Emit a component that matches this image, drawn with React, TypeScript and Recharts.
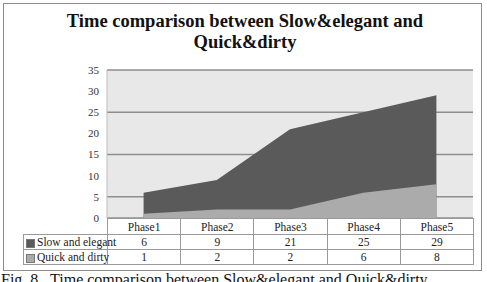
import { AreaChart, Area, XAxis, YAxis, CartesianGrid } from 'recharts';

const phases = ['Phase1', 'Phase2', 'Phase3', 'Phase4', 'Phase5'];
const slowElegant = [6, 9, 21, 25, 29];
const quickDirty = [1, 2, 2, 6, 8];
const yTicks = [0, 5, 10, 15, 20, 25, 30, 35];

const data = phases.map((p, i) => ({ phase: p, slow: slowElegant[i], quick: quickDirty[i] }));

const SLOW = '#5a5a5a';
const QUICK = '#ababab';
const border = '1px solid #9a9a9a';
const serif = '"Liberation Serif", "Times New Roman", serif';

const rows = [
    { name: 'Slow and elegant', color: SLOW, values: slowElegant },
    { name: 'Quick and dirty', color: QUICK, values: quickDirty },
];

export default function App() {
    const colW = 366 / phases.length;
    return (
        <div style={{ position: 'absolute', left: 0, top: 0, width: 487, height: 282, background: '#fff', overflow: 'hidden', fontFamily: serif }}>
            {/* chart frame */}
            <div style={{ position: 'absolute', left: 3, top: 3, width: 477, height: 266, border: '1px solid #8c8c8c' }} />

            <div style={{ position: 'absolute', left: 10, width: 470, top: 11, textAlign: 'center', fontSize: 18.5, fontWeight: 700, lineHeight: '21px', color: '#111' }}>
                Time comparison between Slow&amp;elegant and<br />Quick&amp;dirty
            </div>

            <div style={{ position: 'absolute', left: 0, top: 0 }}>
                <AreaChart width={487} height={230} data={data} margin={{ top: 70, right: 14, bottom: 12, left: 0 }}>
                    <CartesianGrid vertical={false} fill="#e8e8e8" stroke="#8e8e8e" strokeWidth={1.5} />
                    <XAxis dataKey="phase" hide padding={{ left: 36.6, right: 36.6 }} />
                    <YAxis
                        width={107}
                        domain={[0, 35]}
                        ticks={yTicks}
                        tickLine={false}
                        axisLine={{ stroke: '#bdbdbd' }}
                        tick={{ fontSize: 11, fill: '#333', fontFamily: serif }}
                    />
                    <Area type="linear" dataKey="slow" fill={SLOW} fillOpacity={1} stroke="none" isAnimationActive={false} />
                    <Area type="linear" dataKey="quick" fill={QUICK} fillOpacity={1} stroke="none" isAnimationActive={false} />
                </AreaChart>
            </div>

            {/* data table under the plot */}
            <table style={{ position: 'absolute', left: 23, top: 218, borderCollapse: 'collapse', tableLayout: 'fixed', width: 451, fontSize: 11.5, color: '#222' }}>
                <colgroup>
                    <col style={{ width: 84 }} />
                    {phases.map((p) => <col key={p} style={{ width: colW }} />)}
                </colgroup>
                <tbody>
                    <tr style={{ height: 16 }}>
                        <td style={{ padding: 0 }} />
                        {phases.map((p) => (
                            <td key={p} style={{ border, textAlign: 'center', padding: 0 }}>{p}</td>
                        ))}
                    </tr>
                    {rows.map((r) => (
                        <tr key={r.name} style={{ height: 15 }}>
                            <td style={{ border, padding: '0 0 0 2px', whiteSpace: 'nowrap' }}>
                                <span style={{ display: 'inline-block', width: 7, height: 7, background: r.color, border: '1px solid #777', marginRight: 2, verticalAlign: 'middle' }} />
                                {r.name}
                            </td>
                            {r.values.map((v, i) => (
                                <td key={i} style={{ border, textAlign: 'center', padding: 0 }}>{v}</td>
                            ))}
                        </tr>
                    ))}
                </tbody>
            </table>

            <div style={{ position: 'absolute', left: 1, top: 271, fontSize: 16, whiteSpace: 'nowrap', color: '#111' }}>
                Fig. 8.&nbsp; Time comparison between Slow&amp;elegant and Quick&amp;dirty
            </div>
        </div>
    );
}
